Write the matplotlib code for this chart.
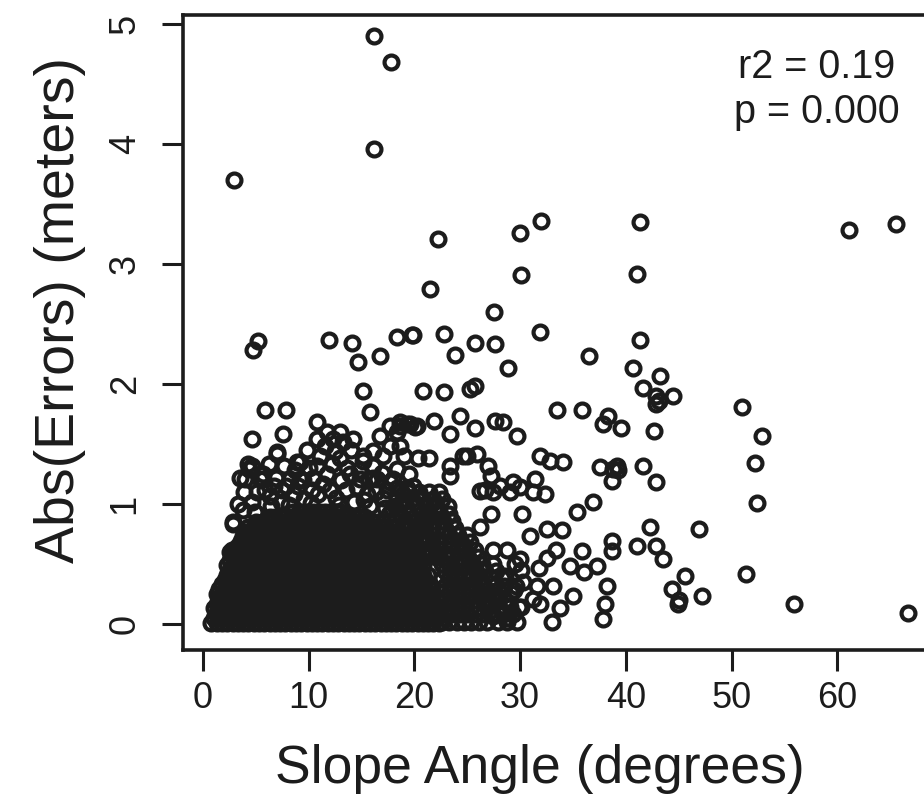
import numpy as np
import matplotlib
matplotlib.use("Agg")
import matplotlib.pyplot as plt

plt.rcParams['font.family'] = ['Liberation Sans', 'DejaVu Sans']

# sparse points read one by one (slope deg, abs error m)
sparse_x = [16.2, 17.8, 16.2, 2.9, 22.2, 30.0, 32.0, 41.3, 30.1, 41.1, 21.5, 61.1, 65.6,
            27.5, 19.9, 22.8, 23.8, 25.7, 27.6, 31.9, 28.9, 36.5,
            20.8, 22.8, 25.3, 25.7, 33.5, 35.9, 38.3, 37.8, 39.5,
            18.6, 19.3, 20.1, 21.9, 24.3, 23.4, 25.7, 27.6, 28.4, 29.7,
            21.4, 25.0, 25.9, 31.9, 32.8, 34.1, 37.6, 39.2,
            5.2, 4.7, 11.9, 14.1, 14.7, 16.7, 18.4, 19.8,
            15.1, 15.8, 5.9, 7.9, 10.8, 4.6, 7.6, 7.0,
            41.3, 40.7, 43.2, 41.6, 42.9, 44.5, 42.9, 43.1,
            51.0, 52.9, 52.2, 52.4, 42.7, 41.6, 42.9,
            38.8, 39.3, 38.7, 42.3, 46.9, 38.7, 38.7,
            41.1, 42.9, 43.5, 45.6, 44.4, 44.9, 45.0, 47.2,
            51.4, 55.9, 66.7, 38.2, 38.0, 37.8]
sparse_y = [4.90, 4.68, 3.96, 3.70, 3.21, 3.26, 3.36, 3.35, 2.91, 2.92, 2.79, 3.28, 3.33,
            2.60, 2.41, 2.42, 2.24, 2.34, 2.33, 2.43, 2.13, 2.23,
            1.94, 1.93, 1.96, 1.98, 1.78, 1.78, 1.73, 1.67, 1.63,
            1.65, 1.67, 1.64, 1.69, 1.73, 1.58, 1.63, 1.69, 1.68, 1.57,
            1.38, 1.40, 1.42, 1.40, 1.36, 1.35, 1.31, 1.32,
            2.36, 2.28, 2.37, 2.34, 2.18, 2.23, 2.39, 2.41,
            1.94, 1.77, 1.78, 1.78, 1.68, 1.54, 1.58, 1.43,
            2.37, 2.13, 2.07, 1.97, 1.90, 1.90, 1.83, 1.86,
            1.81, 1.57, 1.34, 1.01, 1.61, 1.32, 1.18,
            1.29, 1.28, 1.19, 0.81, 0.79, 0.69, 0.61,
            0.65, 0.65, 0.54, 0.40, 0.29, 0.17, 0.20, 0.23,
            0.42, 0.17, 0.09, 0.32, 0.17, 0.04]

# medium density band right of the main cluster
mid_x = [23.4, 23.4, 24.6, 27.0, 27.2, 26.7, 28.1, 29.3, 29.0, 30.0, 31.4, 31.2, 32.4,
         30.2, 27.2, 26.2, 30.9, 32.5, 34.0, 35.4, 36.9, 35.9, 37.3, 36.0, 34.7,
         33.1, 35.0, 33.8, 33.0, 31.6, 31.9, 27.4, 28.8, 30.0, 27.8, 27.4, 30.3, 31.2,
         29.5, 30.1, 26.2, 27.4, 29.4, 28.6, 29.9, 28.9, 32.5, 33.4, 31.8]
mid_y = [1.32, 1.23, 1.40, 1.32, 1.23, 1.12, 1.15, 1.18, 1.10, 1.14, 1.21, 1.10, 1.08,
         0.92, 0.92, 0.81, 0.73, 0.79, 0.78, 0.93, 1.02, 0.61, 0.48, 0.43, 0.48,
         0.32, 0.23, 0.13, 0.02, 0.32, 0.17, 0.62, 0.62, 0.54, 0.23, 0.07, 0.35, 0.21,
         0.50, 0.45, 1.11, 1.10, 0.28, 0.40, 0.14, 0.05, 0.55, 0.62, 0.47]

# rings on top of the black mass
fringe_x = [4.3, 4.0, 5.7, 7.0, 9.2, 8.2, 10.4, 11.7, 11.1, 13.0, 13.9, 15.1, 16.1, 17.0,
            17.7, 18.4, 19.3, 6.3, 4.6, 2.8, 3.2, 2.6, 8.9, 10.8, 12.3, 13.2, 14.2, 13.0,
            11.7, 10.8, 15.1, 16.1, 14.9, 16.5, 18.0, 18.4, 9.2, 7.9, 16.7, 17.7, 18.4,
            18.6, 19.6, 20.2, 17.7, 16.1, 18.6, 5.4, 4.4, 3.5, 4.6, 5.7, 2.8, 2.7,
            12.5, 14.0, 9.8, 6.2, 19.5, 20.3, 3.3, 5.1, 7.4, 8.6, 12.0, 13.5, 15.5,
            17.0, 18.7, 10.3,
            3.8, 4.9, 6.4, 7.5, 8.1, 9.0, 9.6, 10.9, 11.4, 12.6, 13.1, 14.3, 14.6, 15.8,
            16.4, 17.4, 17.9, 18.9, 19.9, 6.9, 8.7, 10.0, 12.2, 14.8, 16.9, 3.9, 5.9,
            7.7, 11.5, 13.6, 15.7, 19.0, 6.7, 9.5, 10.2, 12.9, 15.2, 17.2]
fringe_y = [1.33, 1.21, 1.25, 1.42, 1.35, 1.21, 1.22, 1.25, 1.40, 1.38, 1.25, 1.36, 1.22, 1.40,
            1.18, 1.29, 1.13, 1.07, 1.02, 0.85, 0.62, 0.60, 1.35, 1.32, 1.54, 1.52, 1.54, 1.60,
            1.60, 1.54, 1.40, 1.32, 1.21, 1.21, 1.21, 1.13, 1.21, 1.15, 1.57, 1.65, 1.60,
            1.68, 1.67, 1.65, 1.48, 1.44, 1.48, 1.21, 1.29, 1.22, 1.32, 1.21, 0.83, 0.62,
            1.44, 1.45, 1.45, 1.33, 1.25, 1.38, 1.00, 1.10, 1.02, 1.08, 1.12, 1.12, 1.08,
            1.05, 1.00, 1.12,
            0.95, 0.93, 0.98, 1.12, 0.99, 1.15, 1.04, 1.08, 1.17, 1.05, 1.20, 1.02, 1.14, 0.98,
            1.10, 1.12, 0.96, 1.08, 1.15, 1.22, 1.28, 1.30, 1.33, 1.28, 1.26, 1.10, 1.12,
            1.32, 1.48, 1.30, 1.20, 1.40, 1.15, 1.20, 1.01, 0.99, 1.03, 0.97]

# dense ring rows, slopes 19-30 (row level, slopes in that row)
ring_y = [0.02, 0.08, 0.14, 0.20, 0.26, 0.32, 0.38, 0.44, 0.50, 0.56, 0.62, 0.68,
          0.74, 0.80, 0.86, 0.92, 0.98, 1.04, 1.10]
ring_x = [[22.6, 23.3, 24.0, 24.7, 25.4, 26.1, 26.9, 27.9, 28.8, 29.7],
          [22.9, 23.6, 24.3, 25.0, 25.7, 26.5, 27.4, 28.4, 29.3],
          [22.6, 23.3, 24.0, 24.7, 25.4, 26.1, 27.0, 28.0, 29.0, 30.1],
          [22.9, 23.6, 24.3, 25.0, 25.7, 26.6, 27.6, 28.6],
          [22.6, 23.3, 24.0, 24.7, 25.4, 26.2, 27.1, 28.1, 29.1],
          [22.9, 23.6, 24.3, 25.0, 25.7, 26.6, 27.5, 28.5, 29.6],
          [22.6, 23.3, 24.0, 24.7, 25.4, 26.2, 27.2, 28.3],
          [22.9, 23.6, 24.3, 25.0, 25.8, 26.7, 27.7],
          [22.6, 23.3, 24.0, 24.7, 25.5, 26.4, 27.4],
          [20.4, 21.2, 22.0, 22.9, 23.6, 24.3, 25.1, 26.0],
          [20.0, 20.8, 21.6, 22.4, 23.3, 24.0, 24.8, 25.7],
          [19.6, 20.5, 21.3, 22.2, 22.9, 23.6, 24.4, 25.3],
          [19.3, 20.1, 20.9, 21.8, 22.6, 23.3, 24.1, 25.0],
          [18.8, 19.6, 20.5, 21.5, 22.2, 22.9, 23.8],
          [18.2, 19.1, 20.1, 21.0, 21.9, 22.7, 23.6],
          [17.6, 18.6, 19.6, 20.6, 21.5, 22.4, 23.3],
          [18.2, 19.2, 20.2, 21.1, 22.0, 23.2],
          [18.9, 19.8, 20.8, 21.8, 22.6],
          [19.5, 20.4, 21.4, 22.3]]

# solid black mass: row level and the slope span it covers
blob_y = [0.01, 0.05, 0.09, 0.13, 0.17, 0.21, 0.25, 0.29, 0.33, 0.37, 0.41, 0.45, 0.49,
          0.53, 0.57, 0.61, 0.65, 0.69, 0.73, 0.77, 0.81, 0.85, 0.89, 0.93]
blob_lo = [0.6, 0.8, 0.9, 1.0, 1.1, 1.2, 1.3, 1.5, 1.6, 1.8, 1.9, 2.1, 2.2, 2.4, 2.6, 2.8,
           3.0, 3.2, 3.4, 3.7, 4.0, 4.6, 6.0, 8.2]
blob_hi = [22.3, 22.1, 22.3, 22.1, 22.0, 22.0, 21.8, 21.8, 21.6, 21.5, 21.3, 21.0, 20.8,
           20.6, 20.4, 20.2, 20.0, 19.6, 19.3, 18.8, 18.3, 17.2, 15.6, 13.5]
blob_xa = [0.8, 1.3, 1.8, 2.3, 2.8, 3.3, 3.8, 4.3, 4.8, 5.3, 5.8, 6.3, 6.8, 7.3, 7.8, 8.3,
           8.8, 9.3, 9.8, 10.3, 10.8, 11.3, 11.8, 12.3, 12.8, 13.3, 13.8, 14.3, 14.8, 15.3,
           15.8, 16.3, 16.8, 17.3, 17.8, 18.3, 18.8, 19.3, 19.8, 20.3, 20.8, 21.3, 21.8, 22.3]
blob_xb = [1.05, 1.55, 2.05, 2.55, 3.05, 3.55, 4.05, 4.55, 5.05, 5.55, 6.05, 6.55, 7.05,
           7.55, 8.05, 8.55, 9.05, 9.55, 10.05, 10.55, 11.05, 11.55, 12.05, 12.55, 13.05,
           13.55, 14.05, 14.55, 15.05, 15.55, 16.05, 16.55, 17.05, 17.55, 18.05, 18.55,
           19.05, 19.55, 20.05, 20.55, 21.05, 21.55, 22.05]

bx, by = [], []
for i, yv in enumerate(blob_y):
    row = blob_xa if i % 2 == 0 else blob_xb
    for xv in row:
        if blob_lo[i] <= xv <= blob_hi[i]:
            bx.append(xv)
            by.append(yv)
rx, ry = [], []
for yv, row in zip(ring_y, ring_x):
    rx += row
    ry += [yv] * len(row)

xs = np.array(sparse_x + mid_x + fringe_x + rx + bx)
ys = np.array(sparse_y + mid_y + fringe_y + ry + by)

W, H = 924, 799
fig = plt.figure(figsize=(W / 100, H / 100), dpi=100)
ax = fig.add_axes([183 / W, 149 / H, 752 / W, 635 / H])

ink = '#1c1c1c'
ax.plot(xs, ys, ls='none', marker='o', ms=10, mfc='none', mec=ink, mew=3.0)

ax.set_xlim(-1.89, 69.25)
ax.set_ylim(-0.217, 5.075)
ax.set_xticks([0, 10, 20, 30, 40, 50, 60])
ax.set_yticks([0, 1, 2, 3, 4, 5])
for s in ax.spines.values():
    s.set_linewidth(2.6)
    s.set_color(ink)
ax.tick_params(direction='out', length=15, width=2.2, color=ink, labelsize=26,
               labelcolor=ink)
ax.tick_params(axis='x', pad=7)
ax.tick_params(axis='y', pad=14)
for lab in ax.get_yticklabels():
    lab.set_rotation(90)
    lab.set_va('center')

fig.text(540 / W, 1 - 783 / H, 'Slope Angle (degrees)', ha='center', va='baseline',
         fontsize=38.5, color=ink)
fig.text(60 / W, 1 - 310 / H, 'Abs(Errors) (meters)', ha='center', va='center',
         rotation=90, fontsize=40, color=ink)
fig.text(817 / W, 1 - 78 / H, 'r2 = 0.19', ha='center', va='baseline', fontsize=28.5,
         color=ink)
fig.text(817 / W, 1 - 123 / H, 'p = 0.000', ha='center', va='baseline', fontsize=28.5,
         color=ink)

fig.savefig('out.png', dpi=100)
